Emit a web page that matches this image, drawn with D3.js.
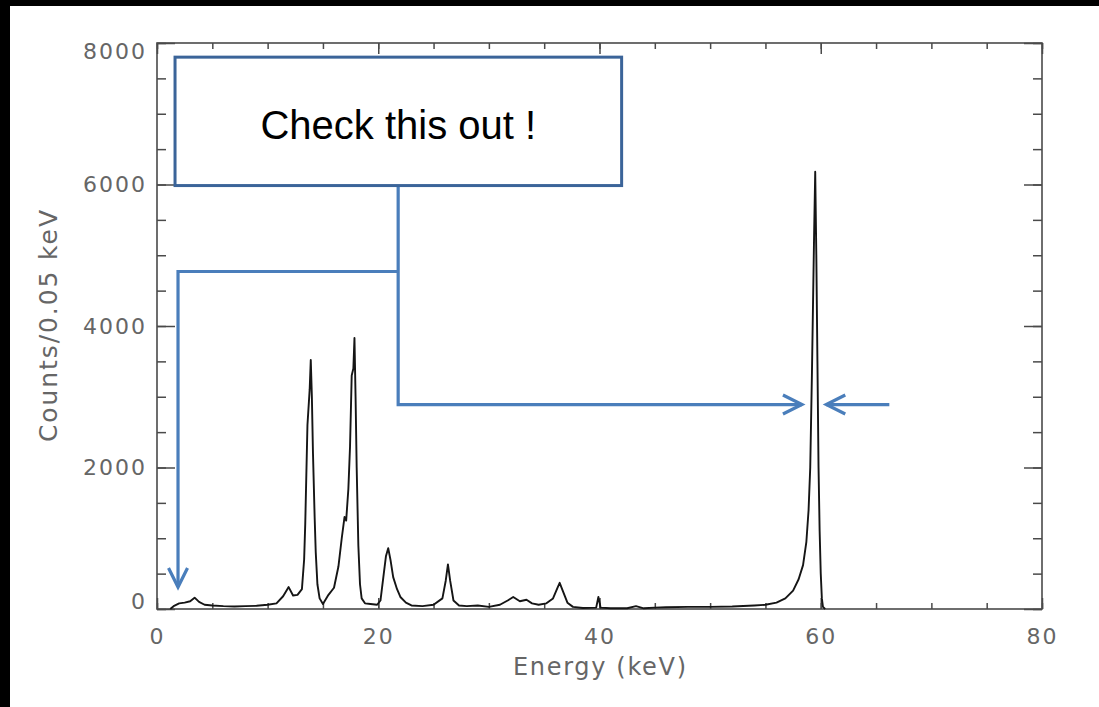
<!DOCTYPE html>
<html>
<head>
<meta charset="utf-8">
<script src="https://cdn.jsdelivr.net/npm/d3@7"></script>
<style>
  body { margin: 0; background: #fff; }
  .tick text { font-family: "DejaVu Sans", sans-serif; fill: #666; }
</style>
</head>
<body>
<svg id="chart" width="1099" height="707"></svg>
<script>
/* spectrum: energy (keV) and counts per 0.05 keV */
var energy = [1.2, 1.5, 2.0, 2.5, 3.0, 3.4, 3.8, 4.3, 5, 6, 7, 8, 9, 10, 10.8, 11.4, 11.9, 12.3, 12.7,
  13.1, 13.3, 13.4, 13.6, 13.8, 13.9, 14.0, 14.1, 14.25, 14.35, 14.5, 14.7, 15.0,
  15.5, 16.0, 16.4, 16.7, 16.95, 17.1, 17.3, 17.45, 17.6, 17.75, 17.85, 17.95, 18.05, 18.2, 18.35, 18.5, 18.8,
  19.3, 19.9, 20.2, 20.5, 20.7, 20.9, 21.1, 21.35, 21.7, 22.0, 22.5, 23, 24, 25,
  25.8, 26.1, 26.3, 26.5, 26.8, 27.3, 28, 29, 30, 31, 31.7, 32.2, 32.8, 33.4, 33.9, 34.5,
  35.2, 35.8, 36.2, 36.4, 36.7, 37.1, 37.6, 38.5, 39.7, 39.9, 40.1, 41, 42.5, 43.3, 44,
  45, 46, 48, 50, 52, 54, 55, 56, 56.8, 57.5, 58.0, 58.4, 58.7, 58.9, 59.05, 59.2, 59.3,
  59.4, 59.5, 59.6, 59.7, 59.8, 59.9, 60.0, 60.1, 60.2, 60.4];
var counts = [0, 40, 80, 90, 110, 160, 100, 60, 50, 40, 35, 40, 45, 60, 80, 180, 310, 190, 200,
  280, 700, 1200, 2600, 3100, 3520, 3000, 2200, 1300, 800, 350, 150, 70,
  200, 300, 600, 1000, 1300, 1250, 1700, 2300, 3300, 3400, 3830, 3000, 2000, 900, 350, 150, 80,
  70, 60, 120, 500, 750, 860, 700, 450, 280, 170, 90, 50, 40, 60,
  150, 400, 630, 400, 120, 50, 40, 50, 30, 60, 120, 170, 110, 130, 80, 60,
  80, 150, 300, 370, 250, 90, 30, 15, 20, 170, 20, 10, 10, 40, 10,
  20, 25, 30, 30, 35, 50, 60, 90, 150, 260, 420, 620, 950, 1400, 2000, 3300, 4300,
  5300, 6180, 5000, 3500, 2000, 1100, 500, 150, 30, 0];

var xMajor = [0, 20, 40, 60, 80];
var yMajor = [0, 2000, 4000, 6000, 8000];
var xMinor = d3.range(0, 81, 5);
var yMinor = d3.range(0, 8001, 500);

var xTitle = "Energy (keV)";
var yTitle = "Counts/0.05 keV";

/* callout, in data units */
var noteText = "Check this out !";
var noteBox = {x0: 1.63, x1: 42.0, y0: 7800, y1: 5985};
var stem = {x: 21.8, yTop: 5985, yMid: 4770, yLow: 2890};
var leftArrow = {x: 1.9, y: 310};
var rightArrow = {x0: 66.2, x1: 60.5};
var peakArrow = {x: 58.3};

var svg = d3.select("#chart");
var W = 1099, H = 707;
var L = 157, R = 1042, T = 43, B = 609;

svg.append("rect").attr("width", W).attr("height", H).attr("fill", "#fff");
svg.append("rect").attr("width", W).attr("height", 6).attr("fill", "#000");
svg.append("rect").attr("width", 10).attr("height", H).attr("fill", "#000");

var x = d3.scaleLinear().domain([0, 80]).range([L, R]);
var y = d3.scaleLinear().domain([0, 8000]).range([B, T]);

var axisColor = "#4a4a4a";

function styleAxis(g){
	g.select(".domain").remove();
	g.selectAll("line").attr("stroke", axisColor).attr("stroke-width", 1.5);
}

// minor ticks
svg.append("g").attr("transform", "translate(0," + B + ")")
	.call(d3.axisBottom(x).tickValues(xMinor).tickSize(-6).tickFormat(""))
	.call(styleAxis);
svg.append("g").attr("transform", "translate(0," + T + ")")
	.call(d3.axisTop(x).tickValues(xMinor).tickSize(-6).tickFormat(""))
	.call(styleAxis);
svg.append("g").attr("transform", "translate(" + L + ",0)")
	.call(d3.axisLeft(y).tickValues(yMinor).tickSize(-9).tickFormat(""))
	.call(styleAxis);
svg.append("g").attr("transform", "translate(" + R + ",0)")
	.call(d3.axisRight(y).tickValues(yMinor).tickSize(-9).tickFormat(""))
	.call(styleAxis);

// major ticks
var gx = svg.append("g").attr("transform", "translate(0," + B + ")")
	.call(d3.axisBottom(x).tickValues(xMajor).tickSize(-11).tickPadding(19).tickFormat(d3.format("d")))
	.call(styleAxis);
gx.selectAll("text").attr("font-size", 22).attr("letter-spacing", 2);
svg.append("g").attr("transform", "translate(0," + T + ")")
	.call(d3.axisTop(x).tickValues(xMajor).tickSize(-11).tickFormat(""))
	.call(styleAxis);
var gy = svg.append("g").attr("transform", "translate(" + L + ",0)")
	.call(d3.axisLeft(y).tickValues(yMajor).tickSize(-18).tickPadding(10).tickFormat(d3.format("d")))
	.call(styleAxis);
gy.selectAll("text").attr("font-size", 22).attr("letter-spacing", 2)
	.attr("y", function(d){ return d == 0 ? -8 : (d == 8000 ? 8 : 0); });
svg.append("g").attr("transform", "translate(" + R + ",0)")
	.call(d3.axisRight(y).tickValues(yMajor).tickSize(-18).tickFormat(""))
	.call(styleAxis);

// frame
svg.append("rect")
	.attr("x", L).attr("y", T).attr("width", R - L).attr("height", B - T)
	.attr("fill", "none").attr("stroke", axisColor).attr("stroke-width", 1.6);

// titles
svg.append("text")
	.attr("x", (L + R)/2).attr("y", 675)
	.attr("text-anchor", "middle")
	.attr("font-family", "DejaVu Sans, sans-serif").attr("font-size", 24)
	.attr("fill", "#666")
	.attr("textLength", 173).attr("lengthAdjust", "spacing")
	.text(xTitle);
svg.append("text")
	.attr("transform", "translate(57," + (T + B)/2 + ") rotate(-90)")
	.attr("text-anchor", "middle")
	.attr("font-family", "DejaVu Sans, sans-serif").attr("font-size", 25)
	.attr("fill", "#666")
	.attr("textLength", 232).attr("lengthAdjust", "spacing")
	.text(yTitle);

// spectrum
var pts = energy.map(function(e, i){ return [e, counts[i]]; });
var line = d3.line()
	.x(function(d){ return x(d[0]); })
	.y(function(d){ return y(d[1]); });
svg.append("path")
	.datum(pts)
	.attr("d", line)
	.attr("fill", "none")
	.attr("stroke", "#151515")
	.attr("stroke-width", 1.9)
	.attr("stroke-linejoin", "round");

/* Callout */

var blue = "#4a7ebb";
var connector = d3.line();

function chevron(tx, ty, dir){
	// open arrow head, dir: "down", "right", "left"
	var a = 19, b = 9.5;
	if (dir == "down") return [[tx - b, ty - a], [tx, ty], [tx + b, ty - a]];
	if (dir == "right") return [[tx - a, ty - b], [tx, ty], [tx - a, ty + b]];
	return [[tx + a, ty - b], [tx, ty], [tx + a, ty + b]];
}

var lines = [
	[[x(stem.x), y(stem.yTop)], [x(stem.x), y(stem.yLow)], [x(peakArrow.x), y(stem.yLow)]],
	[[x(stem.x), y(stem.yMid)], [x(leftArrow.x), y(stem.yMid)], [x(leftArrow.x), y(leftArrow.y)]],
	[[x(rightArrow.x0), y(stem.yLow)], [x(rightArrow.x1), y(stem.yLow)]],
	chevron(x(peakArrow.x), y(stem.yLow), "right"),
	chevron(x(leftArrow.x), y(leftArrow.y), "down"),
	chevron(x(rightArrow.x1), y(stem.yLow), "left")
];
svg.append("g").selectAll("path")
	.data(lines)
	.enter().append("path")
	.attr("d", connector)
	.attr("fill", "none")
	.attr("stroke", blue)
	.attr("stroke-width", 3.2)
	.attr("stroke-linejoin", "miter")
	.attr("stroke-linecap", "butt");

svg.append("rect")
	.attr("x", x(noteBox.x0)).attr("y", y(noteBox.y0))
	.attr("width", x(noteBox.x1) - x(noteBox.x0))
	.attr("height", y(noteBox.y1) - y(noteBox.y0))
	.attr("fill", "#fff")
	.attr("stroke", "#3b6499")
	.attr("stroke-width", 3);

svg.append("text")
	.attr("x", (x(noteBox.x0) + x(noteBox.x1))/2)
	.attr("y", 139)
	.attr("text-anchor", "middle")
	.attr("font-family", "Liberation Sans, Arial, sans-serif")
	.attr("font-size", 40)
	.attr("fill", "#000")
	.text(noteText);
</script>
</body>
</html>
